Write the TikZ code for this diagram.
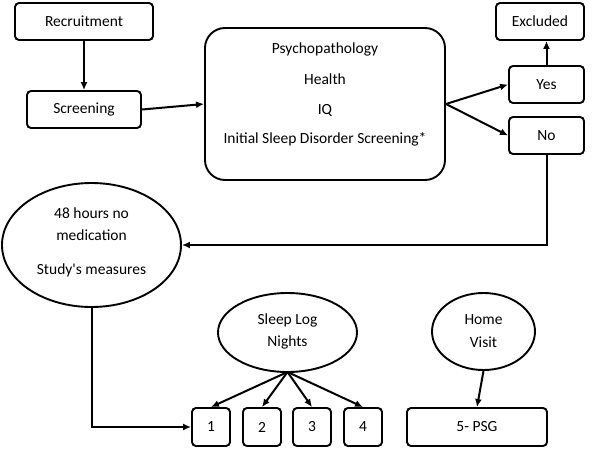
\documentclass[tikz,border=0pt]{standalone}
\usepackage{fontspec}
\setmainfont{Carlito}
\usetikzlibrary{arrows.meta,shapes.geometric}
\begin{document}
\begin{tikzpicture}[x=1pt,y=-1pt,
  every node/.style={font=\fontsize{15.5}{18}\selectfont},
  rbox/.style={draw,line width=1.9pt,rounded corners=4pt,inner sep=0pt},
  ell/.style={draw,line width=1.9pt,ellipse,inner sep=0pt},
  arr/.style={line width=2pt,-{Latex[length=8pt,width=7pt]}}]
\useasboundingbox (0,0) rectangle (600,450);
\node[rbox,minimum width=138pt,minimum height=37pt] (rec) at (84,21.5) {Recruitment};
\node[rbox,minimum width=114pt,minimum height=37pt] (scr) at (84,109.5) {Screening};
\node[rbox,rounded corners=20pt,minimum width=240pt,minimum height=152pt] (big) at (325,104) {};
\node (t1) at (325,49) {Psychopathology};
\node (t2) at (325,79) {Health};
\node (t3) at (325,110) {IQ};
\node (t4) at (325,139) {Initial Sleep Disorder Screening*};
\node[rbox,minimum width=88pt,minimum height=37pt] (exc) at (540,21.5) {Excluded};
\node[rbox,minimum width=75pt,minimum height=37pt] (yes) at (546.5,84.5) {Yes};
\node[rbox,minimum width=75pt,minimum height=37pt] (no) at (546.5,135.5) {No};
\node[ell,minimum width=179pt,minimum height=124pt] (e1) at (91.5,245) {};
\node (e1a) at (91.5,213) {48 hours no};
\node (e1b) at (91.5,235) {medication};
\node (e1c) at (91.5,270) {Study\textquotesingle s measures};
\node[ell,minimum width=139pt,minimum height=79pt] (sl) at (287.5,332.5) {};
\node (sla) at (287.5,320) {Sleep Log};
\node (slc) at (287.5,342) {Nights};
\node[ell,minimum width=103pt,minimum height=77pt] (hv) at (483.5,331.5) {};
\node (hva) at (483.5,320) {Home};
\node (hvc) at (483.5,342) {Visit};
\node[rbox,minimum width=38pt,minimum height=38pt] (n1) at (211,427) {1};
\node[rbox,minimum width=38pt,minimum height=38pt] (n2) at (262,427) {2};
\node[rbox,minimum width=38pt,minimum height=38pt] (n3) at (312,427) {3};
\node[rbox,minimum width=38pt,minimum height=38pt] (n4) at (363,427) {4};
\node[rbox,minimum width=140pt,minimum height=38pt] (psg) at (477,427) {5- PSG};
\coordinate (split) at (446,104);
\coordinate (slb) at (287.5,372);
\draw[arr] (rec) -- (scr);
\draw[arr] (scr.east) -- (big.west);
\draw[arr] (split) -- (yes.west);
\draw[arr] (split) -- (no.west);
\draw[arr] (yes.north) -- (yes.north |- exc.south);
\draw[arr] (no.south) |- (e1.east);
\draw[arr] (e1.south) |- (n1.west);
\draw[arr] (slb) -- (n1.north);
\draw[arr] (slb) -- (n2.north);
\draw[arr] (slb) -- (n3.north);
\draw[arr] (slb) -- (n4.north);
\draw[arr] (hv.south) -- (psg.north);
\end{tikzpicture}
\end{document}
